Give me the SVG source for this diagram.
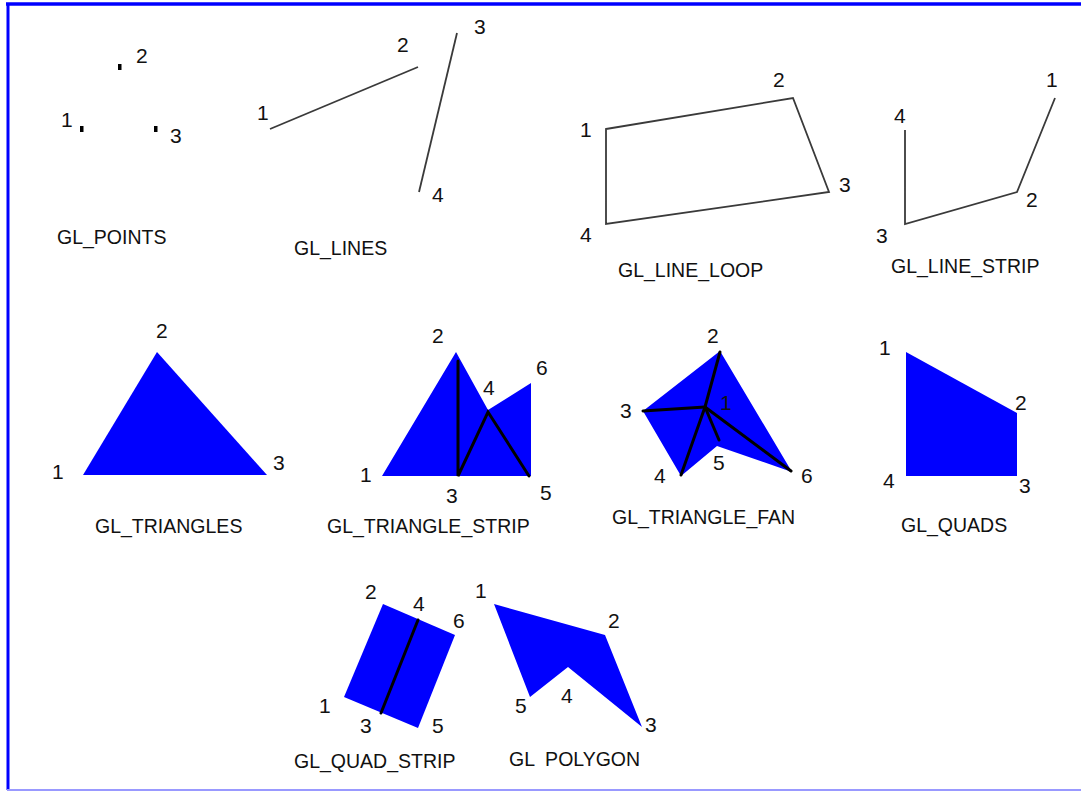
<svg xmlns="http://www.w3.org/2000/svg" width="1081" height="791" viewBox="0 0 1081 791">
<style>
text{font-family:"Liberation Sans",Arial,sans-serif;font-size:21px;fill:#111}
.cap{font-size:19.5px}
.ln{fill:none;stroke:#3a3a3a;stroke-width:1.8;stroke-linejoin:miter}
.fill{fill:#0000ff;stroke:none}
.blk{fill:none;stroke:#000;stroke-width:3;stroke-linecap:round}
.pt{fill:#000}
</style>
<rect width="1081" height="791" fill="#fff"/>
<g id="frame">
<line x1="6" y1="4" x2="1081" y2="4" stroke="#0000ff" stroke-width="3.5"/>
<line x1="8" y1="3" x2="8" y2="790" stroke="#0000ff" stroke-width="3"/>
<line x1="7" y1="790" x2="1081" y2="790" stroke="#9999ff" stroke-width="2"/>
</g>
<g id="points">
<rect class="pt" x="118" y="64" width="3.5" height="6"/>
<rect class="pt" x="80" y="126" width="3.5" height="6"/>
<rect class="pt" x="154" y="126" width="3.5" height="6"/>
<text x="136" y="63">2</text>
<text x="61" y="127">1</text>
<text x="170" y="143">3</text>
<text class="cap" x="57" y="244">GL_POINTS</text>
</g>
<g id="lines">
<line class="ln" x1="270" y1="129" x2="418" y2="67"/>
<line class="ln" x1="457" y1="33" x2="419" y2="192"/>
<text x="257" y="120">1</text>
<text x="397" y="52">2</text>
<text x="474" y="34">3</text>
<text x="432" y="202">4</text>
<text class="cap" x="294" y="255">GL_LINES</text>
</g>
<g id="line_loop">
<polygon class="ln" points="606,129 793,98 829,192 606,224"/>
<text x="580" y="137">1</text>
<text x="773" y="87">2</text>
<text x="839" y="192">3</text>
<text x="580" y="242">4</text>
<text class="cap" x="618" y="277">GL_LINE_LOOP</text>
</g>
<g id="line_strip">
<polyline class="ln" points="1055,98 1017,192 905,224 905,130"/>
<text x="1046" y="87">1</text>
<text x="1026" y="207">2</text>
<text x="876" y="243">3</text>
<text x="894" y="123">4</text>
<text class="cap" x="891" y="273">GL_LINE_STRIP</text>
</g>
<g id="triangles">
<polygon class="fill" points="83,475 157,352 267,475"/>
<text x="52" y="479">1</text>
<text x="156" y="338">2</text>
<text x="273" y="470">3</text>
<text class="cap" x="95" y="533">GL_TRIANGLES</text>
</g>
<g id="triangle_strip">
<polygon class="fill" points="382,476 456,352 488,410 531,383 531,476"/>
<polyline class="blk" points="458,361 458,476 488,412 529,476"/>
<text x="360" y="482">1</text>
<text x="432" y="343">2</text>
<text x="446" y="503">3</text>
<text x="483" y="395">4</text>
<text x="540" y="500">5</text>
<text x="536" y="375">6</text>
<text class="cap" x="327" y="533">GL_TRIANGLE_STRIP</text>
</g>
<g id="triangle_fan">
<polygon class="fill" points="720,351 792,472 717,446 681,476 643,411"/>
<line class="blk" x1="705" y1="407" x2="720" y2="352"/>
<line class="blk" x1="705" y1="407" x2="643" y2="411"/>
<line class="blk" x1="705" y1="407" x2="681" y2="475"/>
<line class="blk" x1="705" y1="407" x2="719" y2="440"/>
<line class="blk" x1="705" y1="407" x2="791" y2="471"/>
<text x="720" y="410">1</text>
<text x="707" y="343">2</text>
<text x="620" y="418">3</text>
<text x="654" y="483">4</text>
<text x="713" y="470">5</text>
<text x="801" y="483">6</text>
<text class="cap" x="612" y="524">GL_TRIANGLE_FAN</text>
</g>
<g id="quads">
<polygon class="fill" points="906,352 1017,413 1017,476 906,476"/>
<text x="879" y="355">1</text>
<text x="1015" y="410">2</text>
<text x="1019" y="493">3</text>
<text x="883" y="488">4</text>
<text class="cap" x="901" y="532">GL_QUADS</text>
</g>
<g id="quad_strip">
<polygon class="fill" points="344,697 383,604 455,635 418,728"/>
<line class="blk" x1="418" y1="620" x2="381" y2="713"/>
<text x="319" y="713">1</text>
<text x="365" y="599">2</text>
<text x="360" y="733">3</text>
<text x="413" y="611">4</text>
<text x="432" y="733">5</text>
<text x="453" y="628">6</text>
<text class="cap" x="294" y="768">GL_QUAD_STRIP</text>
</g>
<g id="polygon">
<polygon class="fill" points="494,604 605,635 642,727 568,667 530,697"/>
<text x="475" y="598">1</text>
<text x="608" y="628">2</text>
<text x="645" y="732">3</text>
<text x="561" y="703">4</text>
<text x="515" y="713">5</text>
<text class="cap" x="509" y="766" xml:space="preserve">GL  POLYGON</text>
</g>
<g id="connectors"/>
</svg>
